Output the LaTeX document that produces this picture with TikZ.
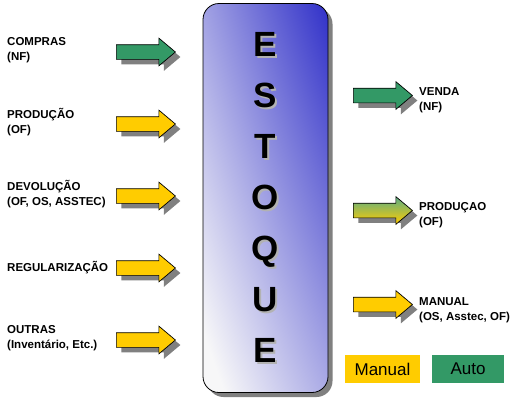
\documentclass[tikz,border=0pt]{standalone}
\usepackage{fontspec}
\setmainfont{Liberation Sans}
\usetikzlibrary{shapes.arrows,shadows}
\definecolor{autogreen}{HTML}{339966}
\definecolor{manualyellow}{HTML}{FFCC00}
\definecolor{shadowgray}{HTML}{808080}
\pgfdeclarefunctionalshading{estoqueshade}{\pgfpointorigin}{\pgfpoint{100bp}{100bp}}{}{
	50 sub 25 div
	exch 50 sub 25 div
	2 copy mul -0.02 mul
	exch -0.2 mul add
	exch -0.22 mul add
	0.63 add
	dup 0.19 lt {pop 0.19} if
	dup 0.97 gt {pop 0.97} if
	dup dup 0.24 mul 0.74 add
}

\begin{document}
\begin{tikzpicture}[
	x=1pt, y=-1pt,
	estoque/.style={
		rectangle,
		draw=black,
		line width=0.8pt,
		rounded corners=16pt,
		minimum width=125pt,
		minimum height=389pt,
		shading=estoqueshade,
		drop shadow={shadow xshift=4.5pt, shadow yshift=-4.5pt, fill=shadowgray, opacity=1}
	},
	letter/.style={
		inner sep=0pt,
		font=\fontsize{35}{35}\selectfont\bfseries,
		text height=25pt,
		text depth=0pt
	},
	lettershadow/.style={
		letter,
		text=black!30
	},
	blockarrow/.style={
		single arrow,
		draw=black,
		line width=0.7pt,
		inner xsep=0pt,
		inner ysep=7pt,
		minimum height=59pt,
		minimum width=0pt,
		single arrow head extend=6.5pt,
		single arrow tip angle=80,
		drop shadow={shadow xshift=5pt, shadow yshift=-5pt, fill=shadowgray, opacity=1}
	},
	tag/.style={
		inner sep=0pt,
		anchor=west,
		align=left,
		font=\fontsize{11.5}{15}\selectfont\bfseries
	},
	legend/.style={
		inner sep=0pt,
		minimum height=28pt,
		font=\fontsize{17}{17}\selectfont
	},
]

\useasboundingbox (0, 0) rectangle (521, 400);

\node[estoque] (estoque) at (265.5, 198) {};

\foreach \letra [count=\i from 0] in {E,S,T,O,Q,U,E} {
	\node[lettershadow] (sombra\i) at (267, 46+51*\i) {\letra};
	\node[letter] (letra\i) at (265, 44+51*\i) {\letra};
}

\node[tag] (lcompras) at (7, 50) {COMPRAS\\(NF)};
\node[tag] (lproducao) at (7, 122) {PRODUÇÃO\\(OF)};
\node[tag] (ldevolucao) at (7, 194) {DEVOLUÇÃO\\(OF, OS, ASSTEC)};
\node[tag] (lregularizacao) at (7, 268) {REGULARIZAÇÃO};
\node[tag] (loutras) at (7, 338) {OUTRAS\\(Inventário, Etc.)};

\node[blockarrow, fill=autogreen] (acompras) at (141.5, 52) {};
\node[blockarrow, fill=manualyellow] (aproducao) at (141.5, 124) {};
\node[blockarrow, fill=manualyellow] (adevolucao) at (141.5, 196) {};
\node[blockarrow, fill=manualyellow] (aregularizacao) at (141.5, 268) {};
\node[blockarrow, fill=manualyellow] (aoutras) at (141.5, 340) {};

\node[blockarrow, fill=autogreen] (avenda) at (378.5, 95.5) {};
\node[blockarrow, top color=autogreen!80, bottom color=manualyellow] (aproducaoout) at (378.5, 210.5) {};
\node[blockarrow, fill=manualyellow] (amanual) at (378.5, 304.5) {};

\node[tag] (lvenda) at (419, 100) {VENDA\\(NF)};
\node[tag] (lproducaoout) at (419, 215) {PRODUÇAO\\(OF)};
\node[tag] (lmanual) at (419, 310) {MANUAL\\(OS, Asstec, OF)};

\node[legend, fill=manualyellow, minimum width=75pt] (manual) at (382.5, 369) {Manual};
\node[legend, fill=autogreen, minimum width=72pt] (auto) at (468, 369) {Auto};

\end{tikzpicture}
\end{document}
